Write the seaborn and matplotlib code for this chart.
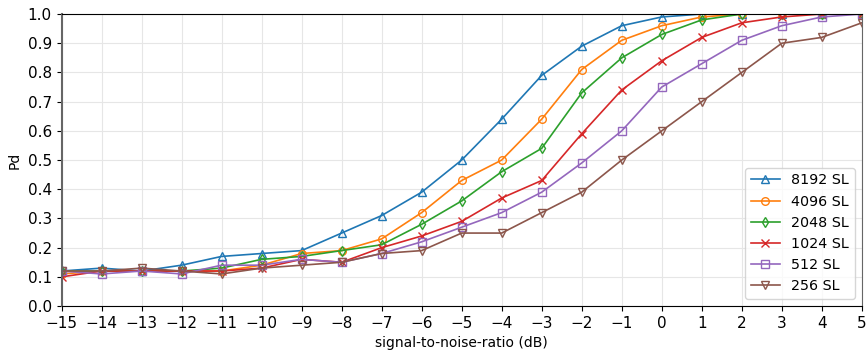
import numpy as np
import pandas as pd
import seaborn as sns
import matplotlib
matplotlib.use("Agg")
import matplotlib.pyplot as plt

snr = list(range(-15, 6))
labels = ["8192 SL", "4096 SL", "2048 SL", "1024 SL", "512 SL", "256 SL"]
pd_8192 = [0.12, 0.13, 0.12, 0.14, 0.17, 0.18, 0.19, 0.25, 0.31, 0.39, 0.50,
           0.64, 0.79, 0.89, 0.96, 0.99, 1.0, 1.0, 1.0, 1.0, 1.0]
pd_4096 = [0.11, 0.12, 0.12, 0.12, 0.12, 0.14, 0.18, 0.19, 0.23, 0.32, 0.43,
           0.50, 0.64, 0.81, 0.91, 0.96, 0.99, 1.0, 1.0, 1.0, 1.0]
pd_2048 = [0.12, 0.12, 0.12, 0.12, 0.13, 0.16, 0.17, 0.19, 0.21, 0.28, 0.36,
           0.46, 0.54, 0.73, 0.85, 0.93, 0.98, 1.0, 1.0, 1.0, 1.0]
pd_1024 = [0.10, 0.12, 0.12, 0.12, 0.12, 0.13, 0.16, 0.15, 0.20, 0.24, 0.29,
           0.37, 0.43, 0.59, 0.74, 0.84, 0.92, 0.97, 0.99, 1.0, 1.0]
pd_512 = [0.12, 0.11, 0.12, 0.11, 0.14, 0.14, 0.16, 0.15, 0.18, 0.22, 0.27,
          0.32, 0.39, 0.49, 0.60, 0.75, 0.83, 0.91, 0.96, 0.99, 1.0]
pd_256 = [0.12, 0.12, 0.13, 0.12, 0.11, 0.13, 0.14, 0.15, 0.18, 0.19, 0.25,
          0.25, 0.32, 0.39, 0.50, 0.60, 0.70, 0.80, 0.90, 0.92, 0.97]

series = [pd_8192, pd_4096, pd_2048, pd_1024, pd_512, pd_256]
markers = ["^", "o", "d", "x", "s", "v"]
colors = sns.color_palette("tab10", 6)

fig, ax = plt.subplots(figsize=(8.67, 3.51), dpi=100)
for lab, vals, m, c in zip(labels, series, markers, colors):
    sns.lineplot(x=snr, y=vals, ax=ax, label=lab, color=c, marker=m,
                 mfc="none", mec=c, mew=1, markersize=5.5, linewidth=1.2)

ax.set_xlim(-15, 5)
ax.set_ylim(0, 1)
ax.set_xticks(np.arange(-15, 6, 1))
ax.set_yticks(np.arange(0, 1.01, 0.1))
ax.tick_params(labelsize=11)
ax.grid(True, color="#e6e6e6", linewidth=0.8)
ax.set_axisbelow(True)
ax.spines["left"].set_color("#666666")
ax.spines["left"].set_linewidth(1.5)
ax.spines["right"].set_color("#666666")
ax.set_xlabel("signal-to-noise-ratio (dB)", fontsize=10)
ax.set_ylabel("Pd", fontsize=10)
ax.legend(loc="lower right", fontsize=10.3)
plt.subplots_adjust(left=0.071, right=0.994, top=0.96, bottom=0.128)
plt.savefig("out.png")
